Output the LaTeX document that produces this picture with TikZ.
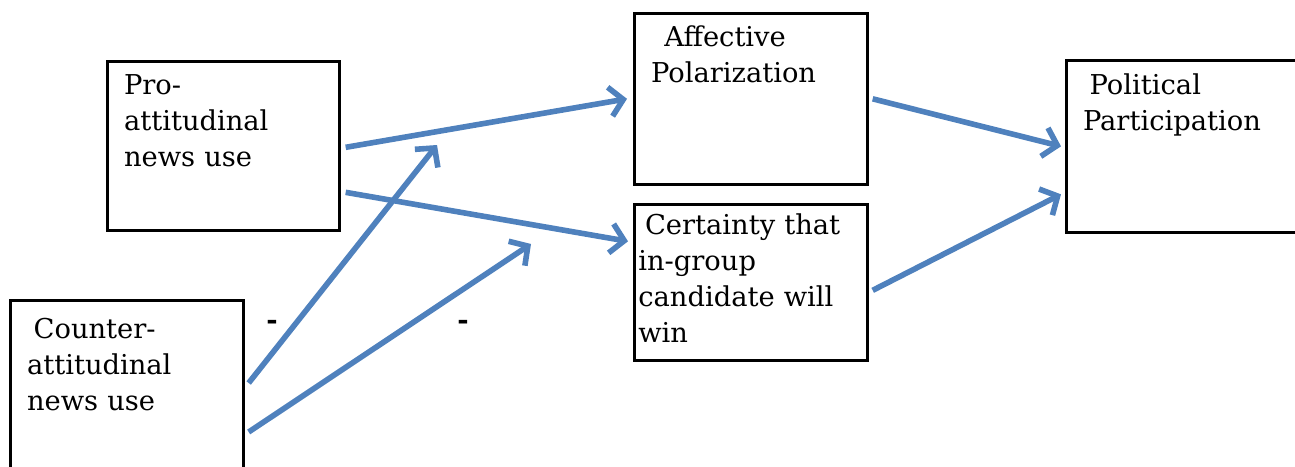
\documentclass[tikz,border=0pt]{standalone}
\usepackage{fontspec}
\setmainfont{DejaVu Serif}
\usetikzlibrary{arrows.meta}
\definecolor{linkblue}{RGB}{79,129,189}

\begin{document}
\begin{tikzpicture}[x=0.75pt,y=-0.75pt,
    var/.style={draw, line width=2pt, anchor=north west, align=left,
      font=\fontsize{20.5pt}{27pt}\selectfont, inner xsep=12.5pt, inner ysep=10pt,
      text height=15pt},
    sign/.style={font=\bfseries\fontsize{20.5pt}{27pt}\selectfont, inner sep=0pt},
    link/.style={draw=linkblue, line width=4.2pt, -{Straight Barb[length=10pt,width=22pt]}}]
      \useasboundingbox (0,0) rectangle (1295,467);
      %%%%%%%%%%%%%%%%%%%%%%%%%%%%%%%%%%%%%%%%%%%%%%%
      \node[var, text width=149pt, text depth=91.75pt] at (106,60) (pro) {Pro-\\attitudinal\\news use};
      \node[var, text width=149.75pt, text depth=93pt, inner ysep=13.5pt] at (9,299) (counter) {\hspace*{5pt}Counter-\\attitudinal\\news use};
      %%%%%%%%%%%%%%%%%%%%%%%%%%%%%%%%%%%%%%%%%%%%%%%
      \node[var, text width=149.75pt, text depth=93.25pt] at (633,12) (aff) {\hspace*{10pt}Affective\\Polarization};
      \node[var, text width=168.75pt, text depth=87pt, inner xsep=3pt, inner ysep=7.5pt] at (633,203) (cert) {\hspace*{5pt}Certainty that\\in-group\\candidate will\\win};
      %%%%%%%%%%%%%%%%%%%%%%%%%%%%%%%%%%%%%%%%%%%%%%%
      \node[var, text width=158.75pt, text depth=93pt, inner ysep=10.5pt] at (1065,59) (pol) {\hspace*{5pt}Political\\Participation};
      %%%%%%%%%%%%%%%%%%%%%%%%%%%%%%%%%%%%%%%%%%%%%%%
      \node[sign] at (272,325) (neg1) {-};
      \node[sign] at (463,325) (neg2) {-};
      \coordinate (m1) at (437,145);
      \coordinate (m2) at (531,244);
      %%%%%%%%%%%%%%%%%%%%%%%%%%%%%%%%%%%%%%%%%%%%%%%
      \draw[link] ([shift={(5,1.5)}]pro.east) -- ([shift={(-6,0)}]aff.west);
      \draw[link] ([shift={(5,46.5)}]pro.east) -- ([shift={(-5,-41)}]cert.west);
      \draw[link] ([shift={(4,84)}]counter.north east) -- (m1);
      \draw[link] ([shift={(4,133)}]counter.north east) -- (m2);
      \draw[link] ([shift={(4,0)}]aff.east) -- ([shift={(-4,0)}]pol.west);
      \draw[link] ([shift={(4,8)}]cert.east) -- ([shift={(-4,48)}]pol.west);
      %%%%%%%%%%%%%%%%%%%%%%%%%%%%%%%%%%%%%%%%%%%%%%%
\end{tikzpicture}
\end{document}
